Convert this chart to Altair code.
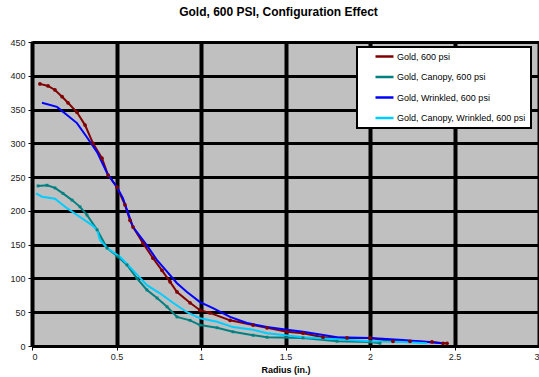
import altair as alt
import pandas as pd

series_names = ["Gold, 600 psi", "Gold, Canopy, 600 psi", "Gold, Wrinkled, 600 psi",
                "Gold, Canopy, Wrinkled, 600 psi"]
series_colors = ["#800000", "#008080", "#0000FF", "#00CCFF"]

gold_x = [0.047, 0.095, 0.136, 0.178, 0.213, 0.266, 0.314, 0.361, 0.414, 0.450, 0.503, 0.550,
          0.580, 0.598, 0.657, 0.716, 0.769, 0.817, 0.858, 0.935, 0.994, 1.053, 1.172, 1.308,
          1.391, 1.509, 1.604, 1.722, 1.864, 2.0, 2.136, 2.237, 2.367, 2.432, 2.456]
gold_y = [388, 385, 379, 369, 360, 346, 327, 300, 278, 253, 235, 209, 186, 176, 152, 130, 112,
          95, 80, 64, 53, 49, 38, 31, 27, 21, 19, 13, 12, 12, 7, 7, 6, 4, 4]

canopy_x = [0.036, 0.089, 0.136, 0.183, 0.237, 0.284, 0.325, 0.385, 0.444, 0.509, 0.562, 0.621,
            0.680, 0.740, 0.799, 0.858, 0.935, 0.994, 1.095, 1.189, 1.308, 1.391, 1.604, 1.805,
            2.0, 2.059]
canopy_y = [237, 238, 234, 226, 216, 206, 194, 172, 145, 132, 120, 100, 83, 71, 58, 43, 38, 31,
            27, 21, 16, 13, 12, 7, 6, 4]

wrinkled_x = [0.059, 0.148, 0.207, 0.266, 0.325, 0.385, 0.444, 0.503, 0.538, 0.568, 0.598, 0.680,
              0.740, 0.799, 0.858, 0.917, 0.994, 1.071, 1.172, 1.272, 1.391, 1.509, 1.604, 1.805,
              2.0, 2.195, 2.337, 2.432]
wrinkled_y = [360, 354, 342, 330, 309, 287, 256, 235, 219, 197, 176, 149, 127, 110, 93, 80, 65,
              56, 43, 34, 28, 24, 21, 13, 12, 9, 6, 4]

cw_x = [0.024, 0.059, 0.136, 0.207, 0.284, 0.355, 0.385, 0.402, 0.444, 0.521, 0.598, 0.680, 0.757,
        0.834, 0.917, 0.994, 1.095, 1.189, 1.308, 1.391, 1.604, 1.805, 2.0, 2.195, 2.337]
cw_y = [226, 221, 218, 204, 191, 179, 172, 157, 145, 132, 112, 90, 78, 64, 50, 41, 36, 28, 24,
        19, 13, 10, 7, 6, 4]

x_ticks = [0, 0.5, 1, 1.5, 2, 2.5, 3]
y_ticks = [0, 50, 100, 150, 200, 250, 300, 350, 400, 450]

rows = []
for name, xs, ys in zip(series_names, [gold_x, canopy_x, wrinkled_x, cw_x],
                        [gold_y, canopy_y, wrinkled_y, cw_y]):
    for i, (a, b) in enumerate(zip(xs, ys)):
        rows.append({"series": name, "x": a, "y": b, "order": i})
df = pd.DataFrame(rows)

xenc = alt.X("x:Q", scale=alt.Scale(domain=[0, 3], nice=False),
             axis=alt.Axis(values=x_ticks, title="Radius (in.)", format="~g", gridWidth=4))
yenc = alt.Y("y:Q", scale=alt.Scale(domain=[0, 450], nice=False),
             axis=alt.Axis(values=y_ticks, title=None, gridWidth=3))

lines = alt.Chart(df).mark_line(strokeWidth=2).encode(
    x=xenc, y=yenc, order="order:Q",
    color=alt.Color("series:N",
                    scale=alt.Scale(domain=series_names, range=series_colors),
                    sort=series_names,
                    legend=alt.Legend(title=None, orient="none", legendX=325, legendY=5,
                                      symbolType="stroke", symbolSize=324, symbolStrokeWidth=2.5,
                                      symbolOffset=12, clipHeight=9,
                                      labelFontSize=9, labelFont="Liberation Sans",
                                      labelColor="#000000", rowPadding=10.5, padding=5,
                                      labelOffset=2, fillColor="white", strokeColor="black",
                                      labelLimit=300)),
)

pts_gold = alt.Chart(df).transform_filter(alt.datum.series == series_names[0]).mark_point(
    shape="circle", filled=True, size=14, color=series_colors[0], opacity=1
).encode(x=xenc, y=yenc)

pts_canopy = alt.Chart(df).transform_filter(alt.datum.series == series_names[1]).mark_point(
    shape="square", filled=True, size=8, color=series_colors[1], opacity=1
).encode(x=xenc, y=yenc)

chart = alt.layer(lines, pts_gold, pts_canopy).properties(
    width=507, height=304,
    title=alt.TitleParams("Gold, 600 PSI, Configuration Effect", fontSize=12,
                          font="Liberation Sans", fontWeight="bold", offset=19, anchor="middle",
                          dx=-7),
    autosize=alt.AutoSizeParams(type="none"),
    padding={"left": 32, "top": 42, "right": 0, "bottom": 31},
).configure_view(
    fill="#C0C0C0", stroke="#808080", strokeWidth=2
).configure_legend(
    strokeWidth=2
).configure_axis(
    gridColor="black", gridOpacity=1,
    domainColor="black", domainWidth=3,
    tickColor="black", tickSize=4, tickWidth=1,
    labelFontSize=9, labelFont="Liberation Sans", labelColor="#222222",
    titleFontSize=9, titleFont="Liberation Sans", titleFontWeight="bold", titleColor="black",
    labelPadding=3,
).configure_axisX(titlePadding=4, labelPadding=2)

chart.save("out.html", embed_options={"renderer": "svg", "actions": False})
